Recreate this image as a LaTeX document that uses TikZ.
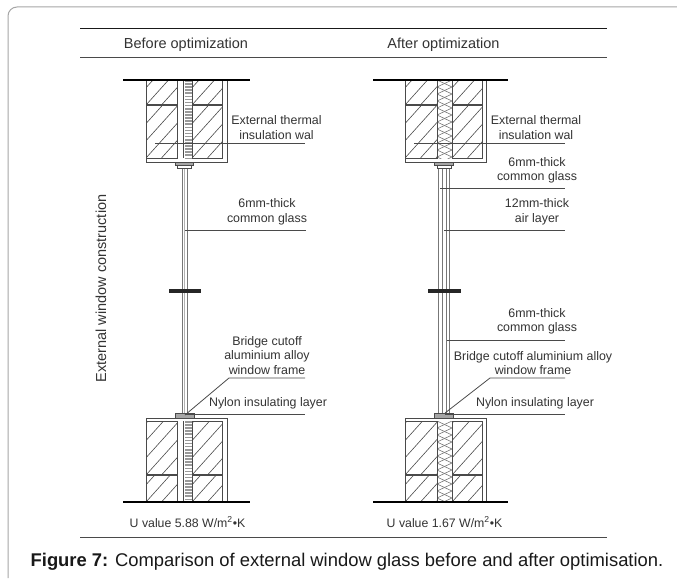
\documentclass[tikz,border=0pt]{standalone}
\usepackage{fontspec}
\setmainfont{Liberation Sans}
\definecolor{ink}{HTML}{333333}
\definecolor{lineg}{HTML}{4A4A4A}
\definecolor{glassg}{HTML}{777777}
\newcommand\hatchcell[4]{%
  \begin{scope}
    \clip (#1,#2) rectangle (#3,#4);
    \foreach \k in {-7,...,8} {\draw[hatchline] ({#1+\k*15.5},{#4}) -- ++(90,-100);}
  \end{scope}
  \draw[wallline] (#1,#2) rectangle (#3,#4);}
\newcommand\mortar[3]{\draw[mortarline] (#1,#3) -- (#2,#3);}
\newcommand\fullwall[8]{% xL xCavL xCavR xR xOuter yTop yMid yBot
  \hatchcell{#1}{#6}{#2}{#7}\hatchcell{#1}{#7}{#2}{#8}
  \hatchcell{#3}{#6}{#4}{#7}\hatchcell{#3}{#7}{#4}{#8}
  \mortar{#1}{#2}{#7}\mortar{#3}{#4}{#7}}
\newcommand\screw[3]{% x ytop ybot
  \draw[wallline] (#1-4.5,#2) -- (#1-4.5,#3);
  \draw[wallline] (#1+4,#2) -- (#1+4,#3);
  \draw[screwline] (#1,#2) -- (#1,#3);}
\newcommand\lattice[4]{% xL xR ytop ybot
  \begin{scope}
    \clip (#1,#3) rectangle (#2,#4);
    \foreach \k in {0,...,6} {
      \draw[latline] (#1,{#3+\k*14}) -- (#2,{#3+\k*14+7}) -- (#1,{#3+\k*14+14});
      \draw[latline] (#2,{#3+\k*14}) -- (#1,{#3+\k*14+7}) -- (#2,{#3+\k*14+14});}
  \end{scope}
  \draw[wallline] (#1,#3) -- (#1,#4) (#2,#3) -- (#2,#4);}
\begin{document}
\begin{tikzpicture}[x=1pt,y=-1pt,
  hatchline/.style={draw=lineg,line width=0.6pt},
  wallline/.style={draw=lineg,line width=0.7pt},
  mortarline/.style={draw=lineg,line width=1.6pt},
  screwline/.style={draw=black!40,line width=7pt,dash pattern=on 1.6pt off 1.5pt},
  latline/.style={draw=glassg,line width=0.6pt},
  glassline/.style={draw=glassg,line width=1pt},
  leader/.style={draw=lineg,line width=0.8pt},
  heavy/.style={draw=black,line width=1.7pt},
  rule/.style={draw=lineg,line width=1pt},
  breakbar/.style={draw=black!85,line width=3.4pt},
  fit/.style={draw=lineg,fill=black!35,line width=0.6pt},
  lab/.style={text=ink,font=\fontsize{12.4}{14.5}\selectfont,align=center,inner sep=0pt},
  ulab/.style={text=ink,font=\fontsize{12.3}{14}\selectfont,inner sep=0pt},
  head/.style={text=ink,font=\fontsize{14.5}{16}\selectfont,inner sep=0pt}]
\useasboundingbox (0,0) rectangle (677,578);
\fill[white] (0,0) rectangle (677,578);
% card outline
\draw[draw=black!35,line width=1pt,rounded corners=9pt] (8,578) -- (8,7) -- (677,7);
% header rules
\draw[draw=black!90,line width=1.4pt] (80,28.5) -- (607,28.5);
\draw[rule] (80,58) -- (607,58);
\draw[rule] (80,537) -- (607,537);
\node[head] (hb) at (186,44.5) {Before optimization};
\node[head] (ha) at (443.5,44.5) {After optimization};
\node[head,rotate=90] (side) at (101,288.5) {External window construction};
% LEFT upper wall
\fullwall{146}{177}{192}{222}{227}{80}{105}{158}
\draw[wallline] (222,80) -- (227,80) -- (227,162) -- (146,162) -- (146,158);
\screw{188}{80}{158}
% LEFT lower wall
\fullwall{146}{177}{192}{222}{227}{421}{475}{502}
\draw[wallline] (146,421) -- (146,418) -- (227,418) -- (227,502);
\screw{188}{421}{502}
% LEFT glass
\draw[glassline] (182,168) -- (182,413) (187,168) -- (187,413);
\draw[draw=black!30,line width=0.8pt] (184.5,168) -- (184.5,413);
\draw[fit] (175,162) rectangle (193,165);
\draw[wallline,fill=white] (177,165) rectangle (191,168);
\draw[fit] (175,413) rectangle (194,418);
\draw[breakbar] (169,291) -- (201,291);
\draw[heavy] (123,80) -- (250,80);
\draw[heavy] (123,502) -- (250,502);
% RIGHT upper wall
\hatchcell{405}{80}{437}{105}\hatchcell{405}{105}{437}{158}
\hatchcell{452}{80}{482}{105}\hatchcell{452}{105}{482}{158}
\mortar{405}{437}{105}\mortar{452}{482}{105}
\draw[wallline] (482,80) -- (486,80) -- (486,162) -- (405,162) -- (405,158);
\lattice{437}{452}{80}{158}
% RIGHT lower wall
\hatchcell{405}{421}{437}{475}\hatchcell{405}{475}{437}{502}
\hatchcell{452}{421}{482}{475}\hatchcell{452}{475}{482}{502}
\mortar{405}{437}{475}\mortar{452}{482}{475}
\draw[wallline] (405,421) -- (405,418) -- (486,418) -- (486,502);
\lattice{437}{452}{421}{502}
% RIGHT glass
\draw[glassline] (438.5,168) -- (438.5,413) (442,168) -- (442,413) (446,168) -- (446,413) (449.5,168) -- (449.5,413);
\draw[fit] (434,162) rectangle (453,165);
\draw[wallline,fill=white] (437,165) rectangle (451,168);
\draw[fit] (434,413) rectangle (453,418);
\draw[breakbar] (428,291) -- (461,291);
\draw[heavy] (373,80) -- (508,80);
\draw[heavy] (373,502) -- (508,502);
% LEFT labels
\node[lab] (l1) at (276.5,127.5) {External thermal\\insulation wal};
\node[lab] (l2) at (267,212) {6mm-thick\\common glass};
\node[lab] (l3) at (267,355.5) {Bridge cutoff\\aluminium alloy\\window frame};
\node[lab] (l4) at (268,403.5) {Nylon insulating layer};
\node[ulab] (l5) at (187.5,522) {U value 5.88 W/m\textsuperscript{2}•K};
% RIGHT labels
\node[lab] (r1) at (536,127.5) {External thermal\\insulation wal};
\node[lab] (r2) at (537,170.5) {6mm-thick\\common glass};
\node[lab] (r3) at (537,212) {12mm-thick\\air layer};
\node[lab] (r4) at (537,321.5) {6mm-thick\\common glass};
\node[lab] (r5) at (533,363) {Bridge cutoff aluminium alloy\\window frame};
\node[lab] (r6) at (535,403.5) {Nylon insulating layer};
\node[ulab] (r7) at (444.5,522) {U value 1.67 W/m\textsuperscript{2}•K};
% leaders
\coordinate (a1) at (155,143); \coordinate (a2) at (305,143);
\coordinate (b1) at (185,230); \coordinate (b2) at (306,230);
\coordinate (c1) at (185,415); \coordinate (c2) at (229,378); \coordinate (c3) at (305,378);
\coordinate (d1) at (185,414); \coordinate (d2) at (305,414);
\draw[leader] (a1) -- (a2);
\draw[leader] (b1) -- (b2);
\draw[leader] (c1) -- (c2) -- (c3);
\draw[leader] (d1) -- (d2);
\coordinate (e1) at (414,143); \coordinate (e2) at (565,143);
\coordinate (f1) at (440,188); \coordinate (f2) at (565,188);
\coordinate (g1) at (444,230); \coordinate (g2) at (565,230);
\coordinate (h1) at (447,340); \coordinate (h2) at (565,340);
\coordinate (i1) at (445,413); \coordinate (i2) at (490,378); \coordinate (i3) at (565,378);
\coordinate (j1) at (445,414); \coordinate (j2) at (565,414);
\draw[leader] (e1) -- (e2);
\draw[leader] (f1) -- (f2);
\draw[leader] (g1) -- (g2);
\draw[leader] (h1) -- (h2);
\draw[leader] (i1) -- (i2) -- (i3);
\draw[leader] (j1) -- (j2);
% caption
\node[text=black!90,inner sep=0pt,font=\fontsize{18.4}{20}\selectfont] (cap) at (347,562) {\textbf{Figure 7:} Comparison of external window glass before and after optimisation.};
\end{tikzpicture}
\end{document}
